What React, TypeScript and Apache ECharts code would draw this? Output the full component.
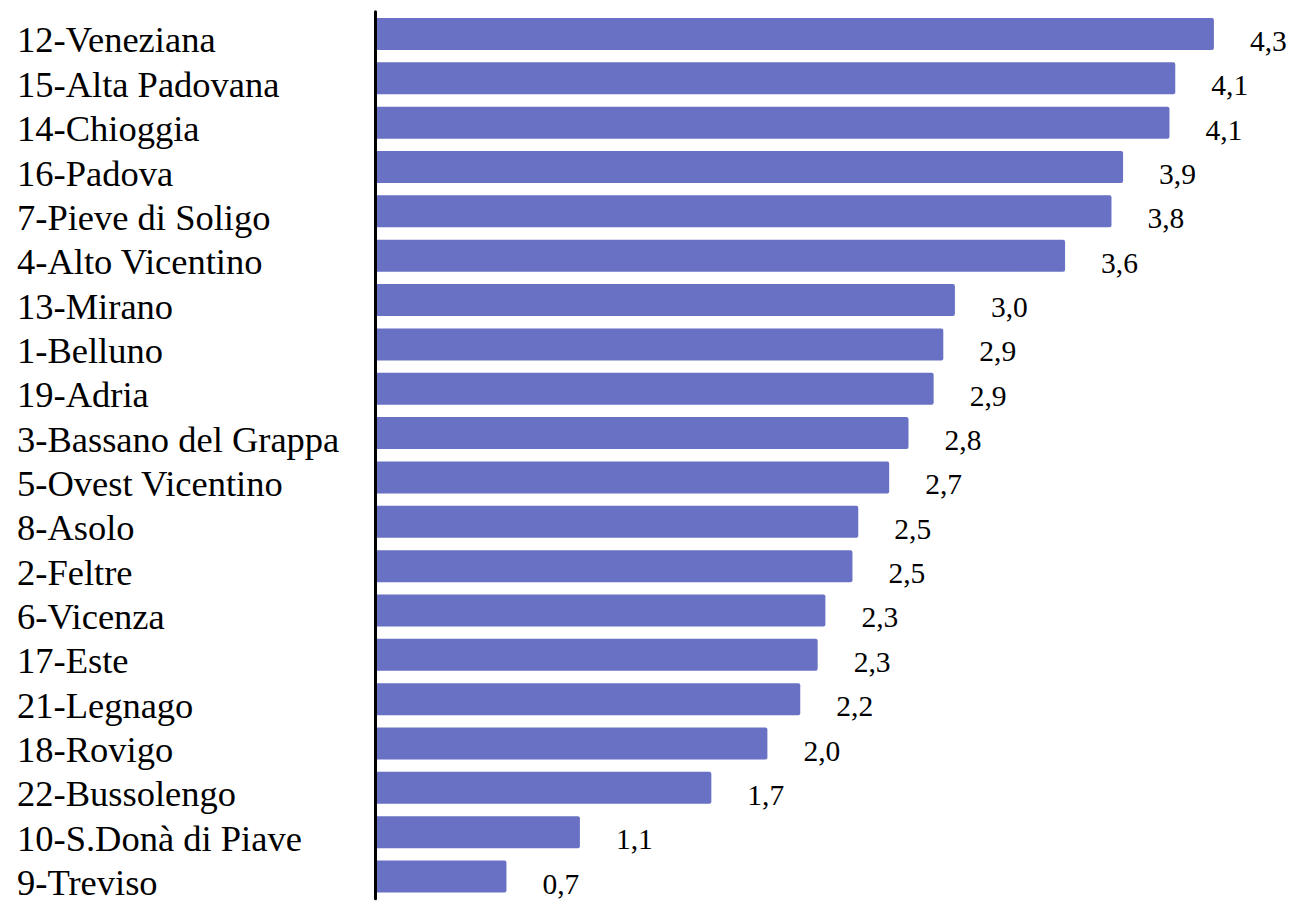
import React, { useEffect, useRef } from "react";
import * as echarts from "echarts";

const categories: string[] = [
  "12-Veneziana",
  "15-Alta Padovana",
  "14-Chioggia",
  "16-Padova",
  "7-Pieve di Soligo",
  "4-Alto Vicentino",
  "13-Mirano",
  "1-Belluno",
  "19-Adria",
  "3-Bassano del Grappa",
  "5-Ovest Vicentino",
  "8-Asolo",
  "2-Feltre",
  "6-Vicenza",
  "17-Este",
  "21-Legnago",
  "18-Rovigo",
  "22-Bussolengo",
  "10-S.Donà di Piave",
  "9-Treviso",
];

const values: number[] = [
  4.34, 4.14, 4.11, 3.87, 3.81, 3.57, 3.0, 2.94, 2.89, 2.76, 2.66, 2.5, 2.47,
  2.33, 2.29, 2.2, 2.03, 1.74, 1.06, 0.68,
];

const X_MAX = 4.5;

export default function App() {
  const ref = useRef<HTMLDivElement>(null);
  useEffect(() => {
    if (!ref.current) return;
    const chart = echarts.init(ref.current, undefined, { renderer: "svg" });
    chart.setOption({
      animation: false,
      backgroundColor: "#ffffff",
      grid: { left: 375, top: 11.8, height: 889.6, width: X_MAX * 193.3, containLabel: false },
      xAxis: {
        type: "value",
        min: 0,
        max: X_MAX,
        show: false,
      },
      yAxis: {
        type: "category",
        inverse: true,
        data: categories,
        z: 5,
        axisLine: { show: true, lineStyle: { color: "#000000", width: 3 } },
        axisTick: { show: false },
        axisLabel: {
          interval: 0,
          align: "left",
          verticalAlign: "top",
          lineHeight: 12,
          margin: 358,
          fontFamily: "Liberation Serif",
          fontSize: 36.5,
          color: "#000000",
        },
      },
      series: [
        {
          type: "bar",
          data: values,
          barWidth: 32,
          itemStyle: { color: "#6971C4", borderRadius: 2 },
          label: {
            show: true,
            position: "right",
            distance: 36,
            offset: [0, 7],
            fontFamily: "Liberation Serif",
            fontSize: 29.5,
            color: "#000000",
            formatter: (p: any) => p.value.toFixed(1).replace(".", ","),
          },
        },
      ],
    });
    return () => chart.dispose();
  }, []);
  return (
    <div
      ref={ref}
      style={{ position: "absolute", left: 0, top: 0, width: 1290, height: 901 }}
    />
  );
}
